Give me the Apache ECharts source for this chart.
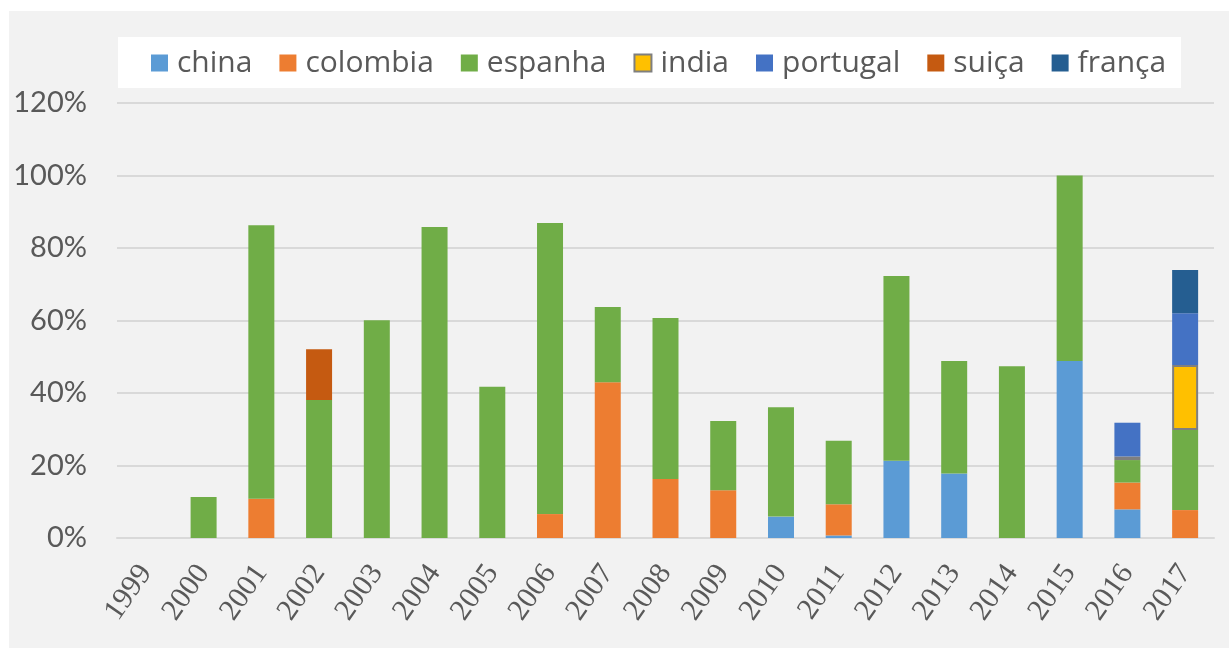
<!DOCTYPE html>
<html>
<head>
<meta charset="utf-8">
<script src="https://cdn.jsdelivr.net/npm/echarts@6/dist/echarts.min.js"></script>
<style>
  html, body { margin: 0; padding: 0; background: #fff; }
  #chart { width: 1229px; height: 650px; }
</style>
</head>
<body>
<div id="chart"></div>
<script>
// anos
const years = ['1999', '2000', '2001', '2002', '2003', '2004', '2005', '2006', '2007', '2008',
  '2009', '2010', '2011', '2012', '2013', '2014', '2015', '2016', '2017']

// percentagens por país
const china    = [null, null, null, null, null, null, null, null, null, null, null, 5.9, 0.7, 21.3, 17.8, null, 48.8, 7.9, null]
const colombia = [null, null, 10.8, null, null, null, null, 6.6, 43.0, 16.3, 13.2, null, 8.6, null, null, null, null, 7.4, 7.7]
const espanha  = [null, 11.3, 75.5, 38.1, 60.1, 85.8, 41.7, 80.3, 20.7, 44.4, 19.1, 30.2, 17.5, 51.0, 31.0, 47.4, 51.2, 6.2, 22.1]
const india    = [null, null, null, null, null, null, null, null, null, null, null, null, null, null, null, null, null, 1.0, 17.9]
const portugal = [null, null, null, null, null, null, null, null, null, null, null, null, null, null, null, null, null, 9.3, 14.3]
const suica    = [null, null, null, 14.0, null, null, null, null, null, null, null, null, null, null, null, null, null, null, null]
const franca   = [null, null, null, null, null, null, null, null, null, null, null, null, null, null, null, null, null, null, 11.9]

const yTicks = [0, 20, 40, 60, 80, 100, 120]

const chart = echarts.init(document.getElementById('chart'))

const mkSeries = (name, data, color, extra) => ({
  name,
  type: 'bar',
  stack: 'total',
  barWidth: 26,
  data,
  itemStyle: Object.assign({ color }, extra || {}),
  emphasis: { disabled: true }
})

const option = {
  animation: false,
  backgroundColor: '#ffffff',
  graphic: [
    { type: 'rect', z: -10, shape: { x: 9, y: 11, width: 1220, height: 637 }, style: { fill: '#f2f2f2' } },
    { type: 'rect', z: -9, shape: { x: 118, y: 37, width: 1063, height: 51 }, style: { fill: '#ffffff' } }
  ],
  legend: {
    left: 146,
    top: 43,
    itemWidth: 17,
    itemHeight: 17,
    itemGap: 27,
    icon: 'rect',
    textStyle: { fontSize: 30, color: '#595959', fontFamily: '"Open Sans", sans-serif', padding: [0, 0, 0, 4] },
    data: ['china', 'colombia', 'espanha', 'india', 'portugal', 'suiça', 'frança']
  },
  grid: { left: 117, right: 15, top: 103, bottom: 112, containLabel: false },
  xAxis: {
    type: 'category',
    data: years,
    axisLine: { lineStyle: { color: '#d9d9d9', width: 2 } },
    axisTick: { show: false },
    axisLabel: {
      interval: 0,
      rotate: 55,
      margin: 30,
      fontSize: 30,
      color: '#595959',
      fontFamily: '"Liberation Serif", serif'
    }
  },
  yAxis: {
    type: 'value',
    min: yTicks[0],
    max: yTicks[yTicks.length - 1],
    interval: 20,
    axisLine: { show: false },
    axisTick: { show: false },
    splitLine: { lineStyle: { color: '#d9d9d9', width: 2 } },
    axisLabel: {
      formatter: '{value}%',
      fontSize: 29,
      margin: 30,
      color: '#595959',
      fontFamily: 'Lato, "Open Sans", sans-serif'
    }
  },
  series: [
    mkSeries('china', china, '#5b9bd5'),
    mkSeries('colombia', colombia, '#ed7d31'),
    mkSeries('espanha', espanha, '#70ad47'),
    mkSeries('india', india, '#ffc000', { borderColor: '#7f7f7f', borderWidth: 2 }),
    mkSeries('portugal', portugal, '#4472c4'),
    mkSeries('suiça', suica, '#c55a11'),
    mkSeries('frança', franca, '#255e91')
  ]
}

chart.setOption(option)
</script>
</body>
</html>
